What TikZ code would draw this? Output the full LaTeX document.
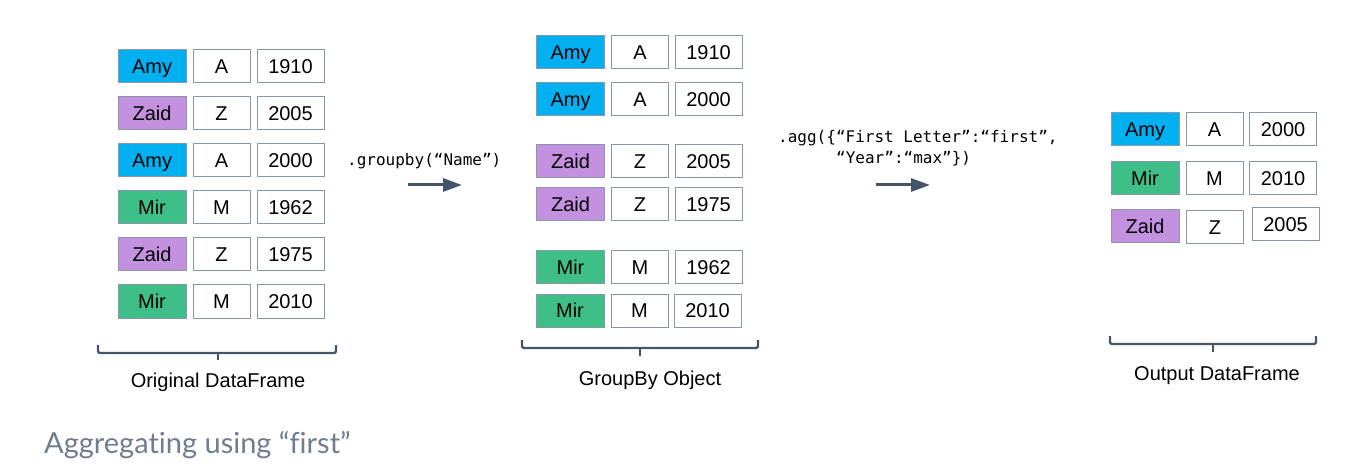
\documentclass[tikz,border=0pt]{standalone}
\usepackage{fontspec}
\setmainfont{Liberation Sans}
\newfontfamily\codefont{DejaVu Sans Mono}
\newfontfamily\capfont[Ligatures=NoCommon]{Lato}
\usetikzlibrary{arrows.meta}
\definecolor{amyc}{HTML}{00B0F0}
\definecolor{zaidc}{HTML}{C490E0}
\definecolor{mirc}{HTML}{3EBF87}
\definecolor{bordc}{HTML}{8A97AB}
\definecolor{slate}{HTML}{44546A}
\definecolor{capc}{HTML}{6F7E8E}
\newcommand\cellrow[9]{%
  \node[namecell, fill=#6] (#1n) at (#3,#2) {#7};
  \node[letcell] (#1l) at (#4,#2) {#8};
  \node[yearcell] (#1y) at (#5,#2) {#9};
}
\tikzset{
  cellbase/.style={draw=bordc, line width=1pt, minimum height=33pt, inner sep=0pt,
    font=\fontsize{20}{24}\selectfont, text=black, text height=14.5pt, text depth=0pt},
  namecell/.style={cellbase, minimum width=68pt},
  letcell/.style={cellbase, minimum width=57pt},
  yearcell/.style={cellbase, minimum width=67pt},
  bracket/.style={draw=slate, line width=2.2pt, rounded corners=1.5pt},
  bigarrow/.style={draw=slate, line width=3pt, -{Triangle[length=19pt,width=13pt]}},
  lbl/.style={font=\fontsize{20}{24}\selectfont, text=black, inner sep=0pt, anchor=base},
  code/.style={font=\codefont\fontsize{16}{18}\selectfont, text=black, inner sep=0pt, anchor=base west},
}
\begin{document}
\begin{tikzpicture}[x=1pt,y=-1pt]
\useasboundingbox (0,0) rectangle (1366,473);
% Original DataFrame
\cellrow{oa}{66.5}{152}{221.5}{290.5}{amyc}{Amy}{A}{1910}
\cellrow{ob}{113.5}{152}{221.5}{290.5}{zaidc}{Zaid}{Z}{2005}
\cellrow{oc}{160.5}{152}{221.5}{290.5}{amyc}{Amy}{A}{2000}
\cellrow{od}{207.5}{152}{221.5}{290.5}{mirc}{Mir}{M}{1962}
\cellrow{oe}{254.5}{152}{221.5}{290.5}{zaidc}{Zaid}{Z}{1975}
\cellrow{of}{301.5}{152}{221.5}{290.5}{mirc}{Mir}{M}{2010}
% GroupBy Object
\cellrow{ga}{52.5}{570.5}{640}{708.5}{amyc}{Amy}{A}{1910}
\cellrow{gb}{99.5}{570.5}{640}{708.5}{amyc}{Amy}{A}{2000}
\cellrow{gc}{161.5}{570.5}{640}{708.5}{zaidc}{Zaid}{Z}{2005}
\cellrow{gd}{204.5}{570.5}{640}{708.5}{zaidc}{Zaid}{Z}{1975}
\cellrow{ge}{267.5}{570.5}{640}{708.5}{mirc}{Mir}{M}{1962}
\cellrow{gf}{310.5}{570}{639.5}{707.5}{mirc}{Mir}{M}{2010}
% Output DataFrame
\cellrow{ua}{129.5}{1145}{1214.5}{1283}{amyc}{Amy}{A}{2000}
\cellrow{ub}{178.5}{1145}{1214.5}{1283}{mirc}{Mir}{M}{2010}
\node[namecell, fill=zaidc] (ucn) at (1145,226.5) {Zaid};
\node[letcell] (ucl) at (1215,227.5) {Z};
\node[yearcell] (ucy) at (1285.5,224.5) {2005};
% brackets
\draw[bracket] (98,345) -- (98,353) -- (336,353) -- (336,345);
\draw[bracket] (218,353) -- (218,360);
\draw[bracket] (522,340) -- (522,348) -- (758,348) -- (758,340);
\draw[bracket] (640,348) -- (640,356);
\draw[bracket] (1110,336) -- (1110,344) -- (1316,344) -- (1316,336);
\draw[bracket] (1213,344) -- (1213,352);
% labels
\node[lbl] (lo) at (218,387) {Original DataFrame};
\node[lbl] (lg) at (650,385) {GroupBy Object};
\node[lbl] (lu) at (1217,380) {Output DataFrame};
% code
\node[code] (c1) at (347,166) {.groupby(“Name”)};
\node[code] (c2) at (778,143) {.agg(\{“First Letter”:“first”,};
\node[code] (c3) at (836,164) {“Year”:“max”\})};
% arrows
\coordinate (a1s) at (408,185);
\coordinate (a1e) at (462,185);
\draw[bigarrow] (a1s) -- (a1e);
\coordinate (a2s) at (876,185);
\coordinate (a2e) at (930,185);
\draw[bigarrow] (a2s) -- (a2e);
% caption
\node[font=\capfont\fontsize{29}{32}\selectfont, text=capc, inner sep=0pt, anchor=base west] (cap) at (44,453) {Aggregating using “first”};
\end{tikzpicture}
\end{document}
